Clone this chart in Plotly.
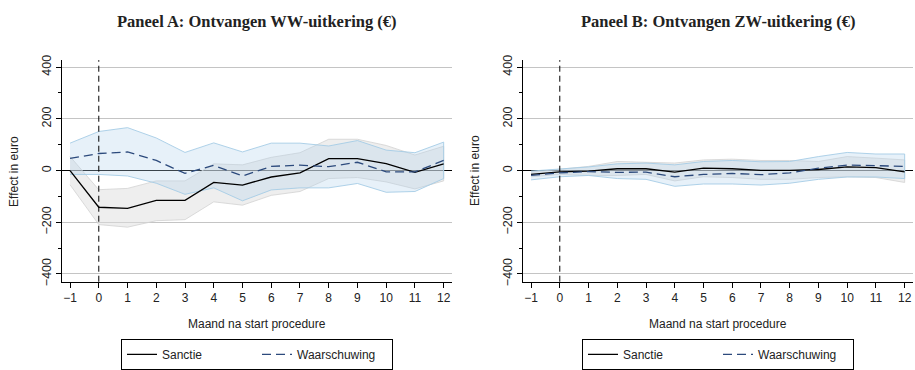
import plotly.graph_objects as go

months = list(range(-1, 13))
tick_vals_y = [-400, -200, 0, 200, 400]
tick_text_y = ["\u2212400", "\u2212200", "0", "200", "400"]
tick_text_x = ["\u22121"] + [str(m) for m in range(0, 13)]

# Panel A: WW-uitkering
a_sanctie = [0, -142, -146, -115, -115, -46, -56, -25, -9, 46, 46, 27, -7, 26]
a_sanctie_hi = [54, -74, -69, -40, -40, 26, 22, 51, 69, 121, 121, 97, 60, 94]
a_sanctie_lo = [-55, -209, -219, -194, -190, -121, -134, -96, -81, -31, -27, -44, -71, -40]
a_waarsch = [47, 66, 72, 39, -11, 20, -21, 16, 21, 15, 32, -5, -5, 39]
a_waarsch_hi = [106, 151, 166, 126, 70, 107, 72, 106, 106, 95, 116, 79, 69, 110]
a_waarsch_lo = [-15, -15, -21, -49, -92, -67, -117, -75, -67, -67, -50, -84, -81, -31]

# Panel B: ZW-uitkering
b_sanctie = [-15, -5, -2, 7, 7, -6, 9, 7, 1, 1, 4, 14, 11, -5]
b_sanctie_hi = [-6, 6, 16, 35, 31, 29, 41, 44, 39, 39, 35, 54, 48, 41]
b_sanctie_lo = [-24, -15, -19, -19, -15, -40, -24, -27, -34, -34, -27, -24, -27, -46]
b_waarsch = [-19, -9, -4, -7, -6, -24, -15, -11, -16, -9, 9, 21, 19, 16]
b_waarsch_hi = [-2, 6, 14, 26, 29, 22, 35, 39, 34, 35, 54, 70, 64, 64]
b_waarsch_lo = [-36, -24, -19, -31, -34, -61, -52, -52, -56, -49, -34, -25, -25, -31]

titles = ["Paneel A: Ontvangen WW-uitkering (\u20ac)", "Paneel B: Ontvangen ZW-uitkering (\u20ac)"]
series_names = ["Sanctie", "Waarschuwing"]

W, H = 915, 370
dom_a = [62 / W, 452 / W]
dom_b = [523 / W, 913 / W]
ydom = [1 - 286 / H, 1 - 57 / H]

fig = go.Figure()

GRAY_FILL = "rgba(222,222,222,0.5)"
GRAY_LINE = "rgba(210,210,210,0.8)"
BLUE_FILL = "rgba(180,212,236,0.32)"
BLUE_LINE = "rgba(165,204,230,0.9)"
NAVY = "#2c4a7c"

panels = [
    ("x", "y", "legend", a_sanctie, a_sanctie_lo, a_sanctie_hi, a_waarsch, a_waarsch_lo, a_waarsch_hi),
    ("x2", "y2", "legend2", b_sanctie, b_sanctie_lo, b_sanctie_hi, b_waarsch, b_waarsch_lo, b_waarsch_hi),
]

for xa, ya, lg, s, slo, shi, w, wlo, whi in panels:
    band_x = months + months[::-1]
    fig.add_trace(go.Scatter(x=band_x, y=shi + slo[::-1], fill="toself", fillcolor=GRAY_FILL,
                             line=dict(color=GRAY_LINE, width=1), mode="lines", showlegend=False,
                             hoverinfo="skip", xaxis=xa, yaxis=ya))
    fig.add_trace(go.Scatter(x=band_x, y=whi + wlo[::-1], fill="toself", fillcolor=BLUE_FILL,
                             line=dict(color=BLUE_LINE, width=1), mode="lines", showlegend=False,
                             hoverinfo="skip", xaxis=xa, yaxis=ya))
    fig.add_trace(go.Scatter(x=months, y=s, mode="lines", name=series_names[0],
                             line=dict(color="black", width=1.3), xaxis=xa, yaxis=ya, legend=lg))
    fig.add_trace(go.Scatter(x=months, y=w, mode="lines", name=series_names[1],
                             line=dict(color=NAVY, width=1.3, dash="9px,5px"), xaxis=xa, yaxis=ya, legend=lg))

xaxis_common = dict(range=[-1.28, 12.29], tickvals=months, ticktext=tick_text_x, ticks="outside",
                    ticklen=5, tickcolor="black", showline=True, linecolor="black", linewidth=1,
                    showgrid=False, zeroline=False, tickfont=dict(family="Liberation Sans", size=12, color="#222"))
yaxis_common = dict(range=[-430, 427], tickvals=tick_vals_y, ticktext=tick_text_y, tickangle=-90,
                    ticks="outside", ticklen=5, tickcolor="black", showline=True, linecolor="black",
                    linewidth=1, showgrid=True, gridcolor="#c4c4c4", gridwidth=1, zeroline=True,
                    zerolinecolor="black", zerolinewidth=1,
                    minor=dict(tickvals=[-300, -100, 100, 300], ticks="outside", ticklen=3, tickcolor="black",
                               showgrid=False),
                    tickfont=dict(family="Liberation Sans", size=12.5, color="#222"))

legend_common = dict(orientation="h", yanchor="top", y=1 - 345 / H, bordercolor="black", borderwidth=1,
                     font=dict(family="Liberation Sans", size=12, color="#222"), bgcolor="white",
                     entrywidth=90, xanchor="center", tracegroupgap=0)

fig.update_layout(
    width=W, height=H, margin=dict(l=0, r=0, t=0, b=0),
    paper_bgcolor="white", plot_bgcolor="white",
    xaxis=dict(xaxis_common, domain=dom_a, anchor="y"),
    yaxis=dict(yaxis_common, domain=ydom, anchor="x"),
    xaxis2=dict(xaxis_common, domain=dom_b, anchor="y2"),
    yaxis2=dict(yaxis_common, domain=ydom, anchor="x2"),
    legend=dict(legend_common, x=(dom_a[0] + dom_a[1]) / 2),
    legend2=dict(legend_common, x=(dom_b[0] + dom_b[1]) / 2),
    showlegend=True,
)

for xa in ["x", "x2"]:
    fig.add_shape(type="line", xref=xa, yref="paper", x0=0, x1=0, y0=ydom[0], y1=ydom[1],
                  line=dict(color="black", width=1, dash="6px,4px"))

annotations = []
for i, dom in enumerate([dom_a, dom_b]):
    cx = (dom[0] + dom[1]) / 2
    annotations.append(dict(text="<b>" + titles[i] + "</b>", x=cx, y=1 - 17 / H, xref="paper", yref="paper",
                            xanchor="center", yanchor="middle", showarrow=False,
                            font=dict(family="Liberation Serif", size=16.5, color="#222")))
    annotations.append(dict(text="Maand na start procedure", x=cx, y=1 - 330 / H, xref="paper", yref="paper",
                            xanchor="center", yanchor="middle", showarrow=False,
                            font=dict(family="Liberation Sans", size=12, color="#222")))
    annotations.append(dict(text="Effect in euro", x=(dom[0] * W - 48) / W, y=(ydom[0] + ydom[1]) / 2,
                            xref="paper", yref="paper", xanchor="center", yanchor="middle", showarrow=False,
                            textangle=-90, font=dict(family="Liberation Sans", size=12, color="#222")))
fig.update_layout(annotations=annotations)

fig.write_html("out.html")
